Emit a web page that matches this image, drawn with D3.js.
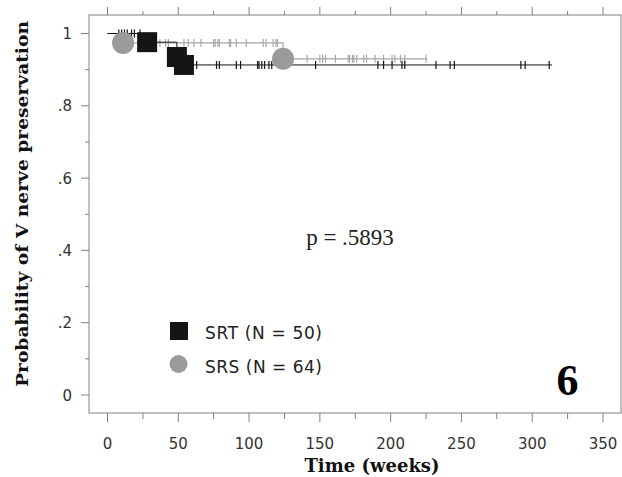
<!DOCTYPE html>
<html><head><meta charset="utf-8">
<script src="https://cdn.jsdelivr.net/npm/d3@7"></script>
<style>body{margin:0;background:#fff;}svg{display:block;}</style>
</head><body>
<svg id="c" width="622" height="477"></svg>
<script>
// Kaplan-Meier steps: event times and survival after each event
const srtEventTimes = [0, 28, 49, 54];
const srtSurvival   = [1, 0.976, 0.935, 0.913];
const srtEndTime = 314;
const srtCensored = [8, 10, 12, 14, 17, 19, 23, 63, 77, 79, 91, 94, 106, 107, 109, 111, 114, 116, 147, 191, 195, 201, 208, 210, 232, 242, 245, 292, 295, 312];

const srsEventTimes = [0, 11, 124];
const srsSurvival   = [1, 0.974, 0.930];
const srsEndTime = 226;
const srsCensored = [37, 41, 43, 54, 57, 61, 66, 75, 76, 78, 79, 86, 87, 91, 98, 110, 112, 117, 119, 120, 141, 150, 152, 154, 161, 170, 171, 173, 174, 176, 181, 183, 189, 195, 201, 203, 207, 210, 225];

const xTicks = [0, 50, 100, 150, 200, 250, 300, 350];
const yTicks = [0, 0.2, 0.4, 0.6, 0.8, 1];
const yTickLabels = ["0", ".2", ".4", ".6", ".8", "1"];
const legendLabels = ["SRT (N = 50)", "SRS (N = 64)"];

const svg = d3.select("#c");
const L = 89, R = 621, T = 15, B = 413;
const x = d3.scaleLinear().domain([0, 350]).range([107.5, 603]);
const y = d3.scaleLinear().domain([0, 1]).range([395, 33.5]);

// frame
svg.append("rect").attr("x", L).attr("y", T).attr("width", R - L).attr("height", B - T)
  .attr("fill", "none").attr("stroke", "#808080").attr("stroke-width", 1);

// x ticks bottom & top (every 25)
const xAll = d3.range(0, 351, 25);
xAll.forEach(v => {
  const major = v % 50 === 0;
  svg.append("line").attr("x1", x(v)).attr("x2", x(v)).attr("y1", B).attr("y2", B + (major ? 9 : 6)).attr("stroke", "#808080");
  svg.append("line").attr("x1", x(v)).attr("x2", x(v)).attr("y1", T).attr("y2", T - (major ? 8 : 4)).attr("stroke", "#808080");
});
svg.selectAll(".xl").data(xTicks).enter().append("text")
  .attr("x", d => x(d)).attr("y", 449).attr("text-anchor", "middle")
  .attr("font-family", "DejaVu Sans").attr("font-size", 15).attr("fill", "#333").text(d => d);

// y ticks (every 0.1)
d3.range(0, 11).forEach(i => {
  const v = i / 10, major = i % 2 === 0;
  svg.append("line").attr("x1", L).attr("x2", L - (major ? 8 : 4)).attr("y1", y(v)).attr("y2", y(v)).attr("stroke", "#808080");
});
svg.selectAll(".yl").data(yTicks).enter().append("text")
  .attr("x", 72).attr("y", d => y(d) + 5.5).attr("text-anchor", "end")
  .attr("font-family", "DejaVu Sans").attr("font-size", 15).attr("fill", "#333")
  .text((d, i) => yTickLabels[i]);

// step function helper
function stepPath(times, surv, end) {
  const pts = [];
  times.forEach((t, i) => {
    if (i > 0) pts.push([t, surv[i - 1]]);
    pts.push([t, surv[i]]);
  });
  pts.push([end, surv[surv.length - 1]]);
  return d3.line().x(d => x(d[0])).y(d => y(d[1]))(pts);
}
function survAt(times, surv, t) {
  let s = surv[0];
  times.forEach((tt, i) => { if (tt <= t) s = surv[i]; });
  return s;
}

const gray = "#9a9a9a", grayLine = "#a8a8a8", black = "#151515";

// SRS curve
svg.append("path").attr("d", stepPath(srsEventTimes, srsSurvival, srsEndTime))
  .attr("fill", "none").attr("stroke", grayLine).attr("stroke-width", 1.2);
svg.selectAll(".sc").data(srsCensored).enter().append("line")
  .attr("x1", d => x(d)).attr("x2", d => x(d))
  .attr("y1", d => y(survAt(srsEventTimes, srsSurvival, d)) - 4)
  .attr("y2", d => y(survAt(srsEventTimes, srsSurvival, d)) + 4)
  .attr("stroke", grayLine).attr("stroke-width", 1.2);

// SRT curve
svg.append("path").attr("d", stepPath(srtEventTimes, srtSurvival, srtEndTime))
  .attr("fill", "none").attr("stroke", black).attr("stroke-width", 1);
svg.selectAll(".tc").data(srtCensored).enter().append("line")
  .attr("x1", d => x(d)).attr("x2", d => x(d))
  .attr("y1", d => y(survAt(srtEventTimes, srtSurvival, d)) - 4)
  .attr("y2", d => y(survAt(srtEventTimes, srtSurvival, d)) + 4)
  .attr("stroke", black).attr("stroke-width", 1.2);

// markers at events
svg.selectAll(".sm").data(srsEventTimes.slice(1)).enter().append("circle")
  .attr("cx", d => x(d)).attr("cy", (d, i) => y(srsSurvival[i + 1]))
  .attr("r", 11).attr("fill", gray);
svg.selectAll(".tm").data(srtEventTimes.slice(1)).enter().append("rect")
  .attr("x", d => x(d) - 10).attr("y", (d, i) => y(srtSurvival[i + 1]) - 10)
  .attr("width", 20).attr("height", 20).attr("fill", black);

// p-value
svg.append("text").attr("x", 350).attr("y", 245).attr("text-anchor", "middle")
  .attr("font-family", "Liberation Serif").attr("font-size", 23).attr("fill", "#222").text("p = .5893");

// legend
svg.append("rect").attr("x", 170).attr("y", 322).attr("width", 18).attr("height", 18).attr("fill", black);
svg.append("circle").attr("cx", 178.5).attr("cy", 364).attr("r", 9).attr("fill", gray);
svg.selectAll(".lg").data(legendLabels).enter().append("text")
  .attr("x", 205).attr("y", (d, i) => 339 + i * 34)
  .attr("font-family", "DejaVu Sans").attr("font-size", 17).attr("fill", "#222")
  .attr("textLength", 117).attr("lengthAdjust", "spacing").text(d => d);

// panel number
svg.append("text").attr("x", 567.5).attr("y", 395).attr("text-anchor", "middle")
  .attr("font-family", "Liberation Serif").attr("font-weight", "bold").attr("font-size", 44).attr("fill", "#000").text("6");

// axis titles
svg.append("text").attr("x", 372).attr("y", 472).attr("text-anchor", "middle")
  .attr("font-family", "DejaVu Serif").attr("font-weight", "bold").attr("font-size", 18).attr("fill", "#111").text("Time (weeks)");
svg.append("text").attr("transform", "translate(28,204) rotate(-90)").attr("text-anchor", "middle")
  .attr("font-family", "DejaVu Serif").attr("font-weight", "bold").attr("font-size", 16).attr("fill", "#111")
  .attr("textLength", 366).attr("lengthAdjust", "spacingAndGlyphs")
  .text("Probability of V nerve preservation");
</script>
</body></html>
